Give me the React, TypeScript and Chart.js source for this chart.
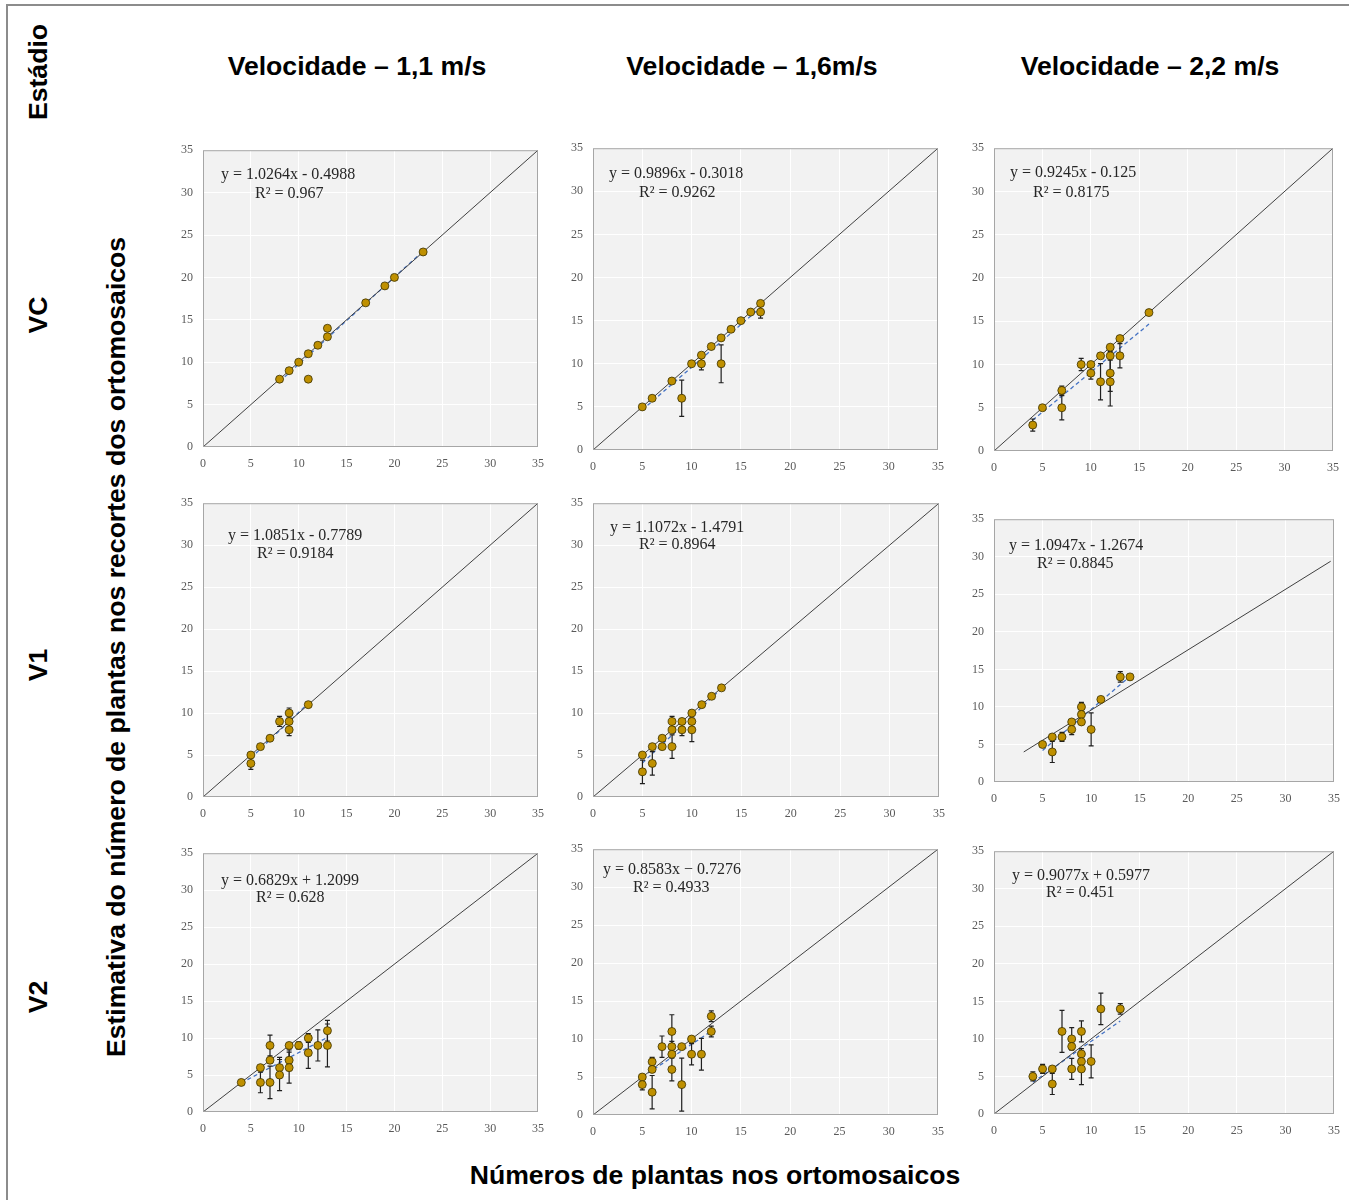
import React, { useEffect, useRef } from 'react';
import Chart from 'chart.js/auto';

// ---------- Column / row labels ----------
const columnTitles = ['Velocidade – 1,1 m/s', 'Velocidade – 1,6m/s', 'Velocidade – 2,2 m/s'];
const rowTitles = ['VC', 'V1', 'V2'];
const cornerTitle = 'Estádio';
const yAxisTitle = 'Estimativa do número de plantas nos recortes dos ortomosaicos';
const xAxisTitle = 'Números de plantas nos ortomosaicos';
const tickValues = [0, 5, 10, 15, 20, 25, 30, 35];

// ---------- VC ----------
const vc11X = [8, 9, 10, 11, 11, 12, 13, 13, 17, 19, 20, 23];
const vc11Y = [8, 9, 10, 11, 8, 12, 13, 14, 17, 19, 20, 23];
const vc11E = [0, 0, 0, 0, 0, 0, 0, 0, 0, 0, 0, 0];

const vc16X = [5, 6, 8, 9, 10, 11, 11, 12, 13, 13, 14, 15, 16, 17, 17];
const vc16Y = [5, 6, 8, 6, 10, 11, 10, 12, 13, 10, 14, 15, 16, 17, 16];
const vc16E = [0, 0, 0, 2.1, 0, 0, 0.7, 0, 0, 2.2, 0, 0, 0, 0, 0.7];

const vc22X = [4, 5, 7, 7, 9, 10, 10, 11, 11, 12, 12, 12, 12, 13, 13, 16];
const vc22Y = [3, 5, 7, 5, 10, 10, 9, 11, 8, 12, 11, 9, 8, 13, 11, 16];
const vc22E = [0.7, 0, 0.5, 1.4, 0.7, 0, 0.7, 0, 2.1, 0, 0.5, 2.1, 2.8, 0, 1.4, 0];

// ---------- V1 ----------
const v111X = [5, 5, 6, 7, 8, 9, 9, 9, 11];
const v111Y = [5, 4, 6, 7, 9, 10, 9, 8, 11];
const v111E = [0, 0.7, 0, 0, 0.6, 0.6, 0, 0.7, 0];

const v116X = [5, 5, 6, 6, 7, 7, 8, 8, 8, 9, 9, 10, 10, 10, 11, 12, 13];
const v116Y = [5, 3, 6, 4, 7, 6, 9, 8, 6, 9, 8, 10, 9, 8, 11, 12, 13];
const v116E = [0, 1.4, 0, 1.4, 0, 0, 0.6, 0, 1.4, 0, 0.7, 0, 0, 1.4, 0, 0, 0];

const v122X = [5, 6, 6, 7, 8, 8, 9, 9, 9, 10, 11, 13, 14];
const v122Y = [5, 6, 4, 6, 8, 7, 10, 9, 8, 7, 11, 14, 14];
const v122E = [0, 0, 1.4, 0.6, 0, 0.7, 0.6, 0, 0, 2.2, 0, 0.7, 0];

// ---------- V2 ----------
const v211X = [4, 6, 6, 7, 7, 7, 8, 8, 9, 9, 9, 10, 11, 11, 12, 13, 13];
const v211Y = [4, 6, 4, 9, 7, 4, 6, 5, 9, 7, 6, 9, 10, 8, 9, 11, 9];
const v211E = [0, 0, 1.4, 1.4, 0, 2.2, 1.4, 2.1, 0, 1.4, 2.1, 0.5, 0.6, 2.1, 2.1, 1.4, 2.9];

const v216X = [5, 5, 6, 6, 6, 7, 8, 8, 8, 8, 9, 9, 10, 10, 11, 12, 12];
const v216Y = [5, 4, 7, 6, 3, 9, 11, 9, 8, 6, 9, 4, 10, 8, 8, 13, 11];
const v216E = [0, 0.7, 0.6, 0, 2.2, 1.4, 2.2, 0.7, 0, 1.5, 0, 3.5, 0, 1.4, 2.1, 0.7, 0.7];

const v222X = [4, 5, 6, 6, 7, 8, 8, 8, 9, 9, 9, 9, 10, 11, 13];
const v222Y = [5, 6, 6, 4, 11, 10, 9, 6, 11, 8, 7, 6, 7, 14, 14];
const v222E = [0.6, 0.6, 0, 1.4, 2.8, 1.5, 0, 1.4, 1.4, 0.7, 0, 2.1, 2.2, 2.1, 0.7];

// ---------- Trend lines and labels (row-major) ----------
const trendSlopes = [1.0264, 0.9896, 0.9245, 1.0851, 1.1072, 1.0947, 0.6829, 0.8583, 0.9077];
const trendIntercepts = [-0.4988, -0.3018, -0.125, -0.7789, -1.4791, -1.2674, 1.2099, 0.7276, 0.5977];
const equationLabels = [
  'y = 1.0264x - 0.4988', 'y = 0.9896x - 0.3018', 'y = 0.9245x - 0.125',
  'y = 1.0851x - 0.7789', 'y = 1.1072x - 1.4791', 'y = 1.0947x - 1.2674',
  'y = 0.6829x + 1.2099', 'y = 0.8583x − 0.7276', 'y = 0.9077x + 0.5977',
];
const r2Labels = [
  'R² = 0.967', 'R² = 0.9262', 'R² = 0.8175',
  'R² = 0.9184', 'R² = 0.8964', 'R² = 0.8845',
  'R² = 0.628', 'R² = 0.4933', 'R² = 0.451',
];
// reference line [x0, y0, x1, y1]
const refLines = [
  [0, 0, 35, 35], [0, 0, 35, 35], [0, 0, 35, 35],
  [0, 0, 35, 35], [0, 0, 35, 35], [3.06, 4, 34.66, 29.4],
  [0, 0, 35, 35], [0, 0, 35, 35], [0, 0, 35, 35],
];

const seriesX = [vc11X, vc16X, vc22X, v111X, v116X, v122X, v211X, v216X, v222X];
const seriesY = [vc11Y, vc16Y, vc22Y, v111Y, v116Y, v122Y, v211Y, v216Y, v222Y];
const seriesE = [vc11E, vc16E, vc22E, v111E, v116E, v122E, v211E, v216E, v222E];

// ---------- Layout (plot areas in page px) ----------
const plotRects = [
  { l: 203, t: 150, r: 538, b: 447 },
  { l: 593, t: 148, r: 938, b: 450 },
  { l: 994, t: 148, r: 1333, b: 451 },
  { l: 203, t: 503, r: 538, b: 797 },
  { l: 593, t: 503, r: 939, b: 797 },
  { l: 994, t: 519, r: 1334, b: 782 },
  { l: 203, t: 853, r: 538, b: 1112 },
  { l: 593, t: 849, r: 938, b: 1115 },
  { l: 994, t: 851, r: 1334, b: 1114 },
];
// [eqDx, eqDy, r2Dx, r2Dy] offsets from plot top-left
const labelOffsets = [
  [18, 25, 52, 44], [16, 26, 46, 45], [16, 25, 39, 45],
  [25, 33, 54, 51], [17, 25, 46, 42], [15, 27, 43, 45],
  [18, 28, 53, 45], [10, 21, 40, 39], [18, 25, 52, 42],
];

const YW = 45;
const XH = 30;
const PT = 12;
const PR = 14;

function Panel({ idx }: { idx: number }) {
  const ref = useRef<HTMLCanvasElement | null>(null);
  const rect = plotRects[idx];
  const W = rect.r - rect.l + YW + PR;
  const H = rect.b - rect.t + PT + XH;

  useEffect(() => {
    const canvas = ref.current as HTMLCanvasElement;
    const xs = seriesX[idx];
    const ys = seriesY[idx];
    const es = seriesE[idx];
    const pts = xs.map((x, i) => ({ x, y: ys[i] }));
    const minX = Math.min(...xs);
    const maxX = Math.max(...xs);
    const a = trendSlopes[idx];
    const b = trendIntercepts[idx];
    const trend = [
      { x: minX, y: a * minX + b },
      { x: maxX, y: a * maxX + b },
    ];
    const rl = refLines[idx];
    const off = labelOffsets[idx];

    const bgPlugin = {
      id: 'bg',
      beforeDraw(chart: any) {
        const { ctx, chartArea: ca } = chart;
        ctx.save();
        ctx.fillStyle = '#F2F2F2';
        ctx.fillRect(ca.left, ca.top, ca.right - ca.left, ca.bottom - ca.top);
        ctx.restore();
      },
    };
    const errPlugin = {
      id: 'err',
      beforeDatasetDraw(chart: any, args: any) {
        if (args.index !== 0) return;
        const { ctx } = chart;
        const sx = chart.scales.x;
        const sy = chart.scales.y;
        ctx.save();
        ctx.strokeStyle = '#1f1f1f';
        ctx.lineWidth = 1.2;
        es.forEach((e, i) => {
          if (!e) return;
          const px = sx.getPixelForValue(xs[i]);
          const y1 = sy.getPixelForValue(ys[i] - e);
          const y2 = sy.getPixelForValue(ys[i] + e);
          ctx.beginPath();
          ctx.moveTo(px, y1);
          ctx.lineTo(px, y2);
          ctx.moveTo(px - 2.5, y1);
          ctx.lineTo(px + 2.5, y1);
          ctx.moveTo(px - 2.5, y2);
          ctx.lineTo(px + 2.5, y2);
          ctx.stroke();
        });
        ctx.restore();
      },
    };
    const txtPlugin = {
      id: 'txt',
      afterDraw(chart: any) {
        const { ctx, chartArea: ca } = chart;
        ctx.save();
        ctx.strokeStyle = '#A6A6A6';
        ctx.lineWidth = 1;
        ctx.strokeRect(ca.left + 0.5, ca.top + 0.5, ca.right - ca.left - 1, ca.bottom - ca.top - 1);
        ctx.fillStyle = '#262626';
        ctx.font = '16px "Liberation Serif", "Times New Roman", serif';
        ctx.textBaseline = 'middle';
        ctx.textAlign = 'left';
        ctx.fillText(equationLabels[idx], ca.left + off[0], ca.top + off[1]);
        ctx.fillText(r2Labels[idx], ca.left + off[2], ca.top + off[3]);
        ctx.restore();
      },
    };

    const tickFont = { family: '"Liberation Serif", "Times New Roman", serif', size: 12 };
    const axis = (isX: boolean) => ({
      type: 'linear' as const,
      min: 0,
      max: 35,
      afterBuildTicks: (s: any) => {
        s.ticks = tickValues.map((v) => ({ value: v }));
      },
      ticks: { stepSize: 5, padding: isX ? 10 : 10, color: '#595959', font: tickFont },
      grid: { color: '#FFFFFF', lineWidth: 1, drawTicks: false },
      border: { display: false },
      afterFit: (s: any) => {
        if (isX) s.height = XH;
        else s.width = YW;
      },
    });

    const chart = new Chart(canvas, {
      type: 'scatter',
      data: {
        datasets: [
          {
            data: pts,
            pointRadius: 4,
            pointHoverRadius: 4,
            backgroundColor: '#BF9000',
            borderColor: '#3a3000',
            borderWidth: 0.8,
          },
          {
            type: 'line',
            data: [{ x: rl[0], y: rl[1] }, { x: rl[2], y: rl[3] }],
            borderColor: '#404040',
            borderWidth: 1,
            pointRadius: 0,
            fill: false,
          } as any,
          {
            type: 'line',
            data: trend,
            borderColor: '#4472C4',
            borderWidth: 1.3,
            borderDash: [4, 3],
            pointRadius: 0,
            fill: false,
          } as any,
        ],
      },
      options: {
        animation: false,
        responsive: false,
        maintainAspectRatio: false,
        events: [],
        layout: { padding: { top: PT, right: PR, left: 0, bottom: 0 } },
        plugins: { legend: { display: false }, tooltip: { enabled: false } },
        scales: { x: axis(true), y: axis(false) } as any,
      },
      plugins: [bgPlugin, errPlugin, txtPlugin],
    });

    // align the drawn plot area with the intended rectangle
    const fit = () => {
      const ca = chart.chartArea;
      if (!ca) return;
      const padL = ca.left;
      const padT = ca.top;
      const padR = chart.width - ca.right;
      const padB = chart.height - ca.bottom;
      const nw = Math.round(rect.r - rect.l + padL + padR);
      const nh = Math.round(rect.b - rect.t + padT + padB);
      canvas.style.left = `${Math.round(rect.l - padL)}px`;
      canvas.style.top = `${Math.round(rect.t - padT)}px`;
      if (nw !== chart.width || nh !== chart.height) chart.resize(nw, nh);
    };
    fit();
    fit();
    fit();
    return () => chart.destroy();
  }, [idx]);

  return (
    <canvas
      ref={ref}
      width={W}
      height={H}
      style={{ position: 'absolute', left: rect.l - YW, top: rect.t - PT, width: W, height: H }}
    />
  );
}

const boldText: React.CSSProperties = {
  position: 'absolute',
  fontFamily: '"Liberation Sans", Arial, sans-serif',
  fontWeight: 'bold',
  fontSize: 26.6,
  color: '#000',
  whiteSpace: 'nowrap',
  lineHeight: 1,
};

function Label({ text, cx, cy, rotate }: { text: string; cx: number; cy: number; rotate?: boolean }) {
  return (
    <div
      style={{
        ...boldText,
        left: cx,
        top: cy,
        transform: `translate(-50%, -50%)${rotate ? ' rotate(-90deg)' : ''}`,
      }}
    >
      {text}
    </div>
  );
}

const colCenters = [357, 752, 1150];
const rowCenters = [315, 665, 997];

export default function App() {
  return (
    <div style={{ position: 'absolute', left: 0, top: 0, width: 1349, height: 1200, background: '#fff', overflow: 'hidden' }}>
      <div
        style={{
          position: 'absolute',
          left: 6,
          top: 4,
          width: 1360,
          height: 1210,
          borderTop: '2px solid #8c8c8c',
          borderLeft: '2px solid #8c8c8c',
        }}
      />
      <Label text={cornerTitle} cx={38} cy={72} rotate />
      {columnTitles.map((t, i) => (
        <Label key={t} text={t} cx={colCenters[i]} cy={66} />
      ))}
      {rowTitles.map((t, i) => (
        <Label key={t} text={t} cx={38} cy={rowCenters[i]} rotate />
      ))}
      <Label text={yAxisTitle} cx={116} cy={647} rotate />
      <Label text={xAxisTitle} cx={715} cy={1175} />
      {plotRects.map((_, i) => (
        <Panel key={i} idx={i} />
      ))}
    </div>
  );
}
